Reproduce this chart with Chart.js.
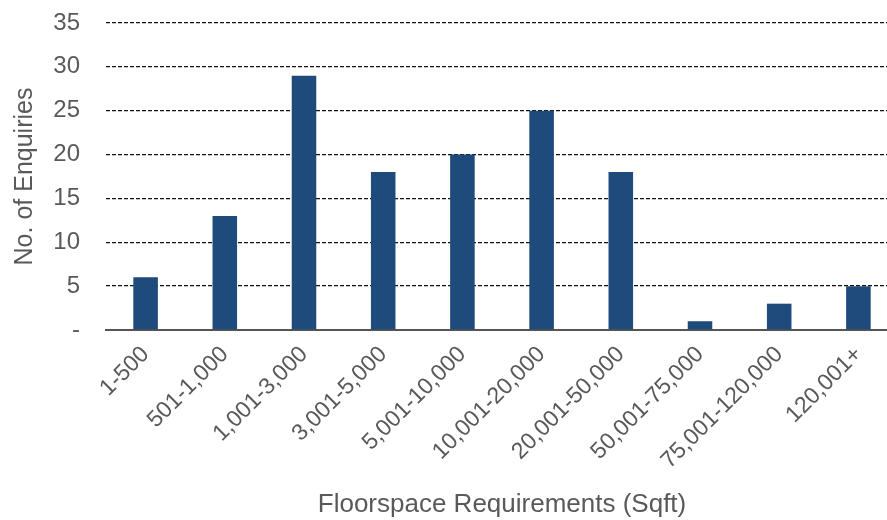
<!DOCTYPE html>
<html>
<head>
<meta charset="utf-8">
<script src="https://cdn.jsdelivr.net/npm/chart.js@4/dist/chart.umd.min.js"></script>
<style>
  html, body { margin: 0; padding: 0; background: #fff; overflow: hidden; }
  #wrap { width: 898px; height: 520px; }
</style>
</head>
<body>
<div id="wrap"><canvas id="c" width="898" height="520"></canvas></div>
<script>
// Enquiries by floorspace band
const categories = ['1-500', '501-1,000', '1,001-3,000', '3,001-5,000', '5,001-10,000',
  '10,001-20,000', '20,001-50,000', '50,001-75,000', '75,001-120,000', '120,001+'];
const enquiries = [6, 13, 29, 18, 20, 25, 18, 1, 3, 5];
const yTicks = [0, 5, 10, 15, 20, 25, 30, 35];

const FONT = "'Liberation Sans', Arial, sans-serif";
const GREY = '#595959';

new Chart(document.getElementById('c'), {
  type: 'bar',
  data: {
    labels: categories,
    datasets: [{
      data: enquiries,
      backgroundColor: '#1f4a7c',
      borderWidth: 0,
      categoryPercentage: 1,
      barPercentage: 0.31
    }]
  },
  options: {
    responsive: false,
    animation: false,
    layout: { padding: { top: 23, left: 0, right: 0, bottom: 0 } },
    plugins: { legend: { display: false }, tooltip: { enabled: false } },
    scales: {
      x: {
        grid: { display: false, drawTicks: false },
        border: { display: true, color: '#555', width: 2 },
        ticks: {
          color: GREY,
          font: { family: FONT, size: 23 },
          maxRotation: 45, minRotation: 45,
          padding: 11
        },
        title: {
          display: true,
          text: 'Floorspace Requirements (Sqft)',
          color: GREY,
          font: { family: FONT, size: 26 },
          padding: { top: 0, bottom: 0 }
        },
        afterFit: s => { s.height = 190; s.paddingLeft = 0; s.paddingRight = 0; }
      },
      y: {
        min: 0, max: 35,
        afterBuildTicks: s => { s.ticks = yTicks.map(v => ({ value: v })); },
        grid: {
          drawTicks: false,
          color: c => c.tick && c.tick.value === 0 ? 'rgba(0,0,0,0)' : '#111',
          lineWidth: 1.3
        },
        border: { display: false, dash: [4, 2] },
        ticks: {
          color: GREY,
          font: { family: FONT, size: 24 },
          padding: 26,
          callback: v => v === 0 ? '-' : String(v)
        },
        title: {
          display: true,
          text: 'No. of Enquiries',
          color: GREY,
          font: { family: FONT, size: 25 },
          padding: { top: 10, bottom: 0 }
        },
        afterFit: s => { s.width = 106; s.paddingTop = 0; s.paddingBottom = 0; }
      }
    }
  }
});
</script>
</body>
</html>
